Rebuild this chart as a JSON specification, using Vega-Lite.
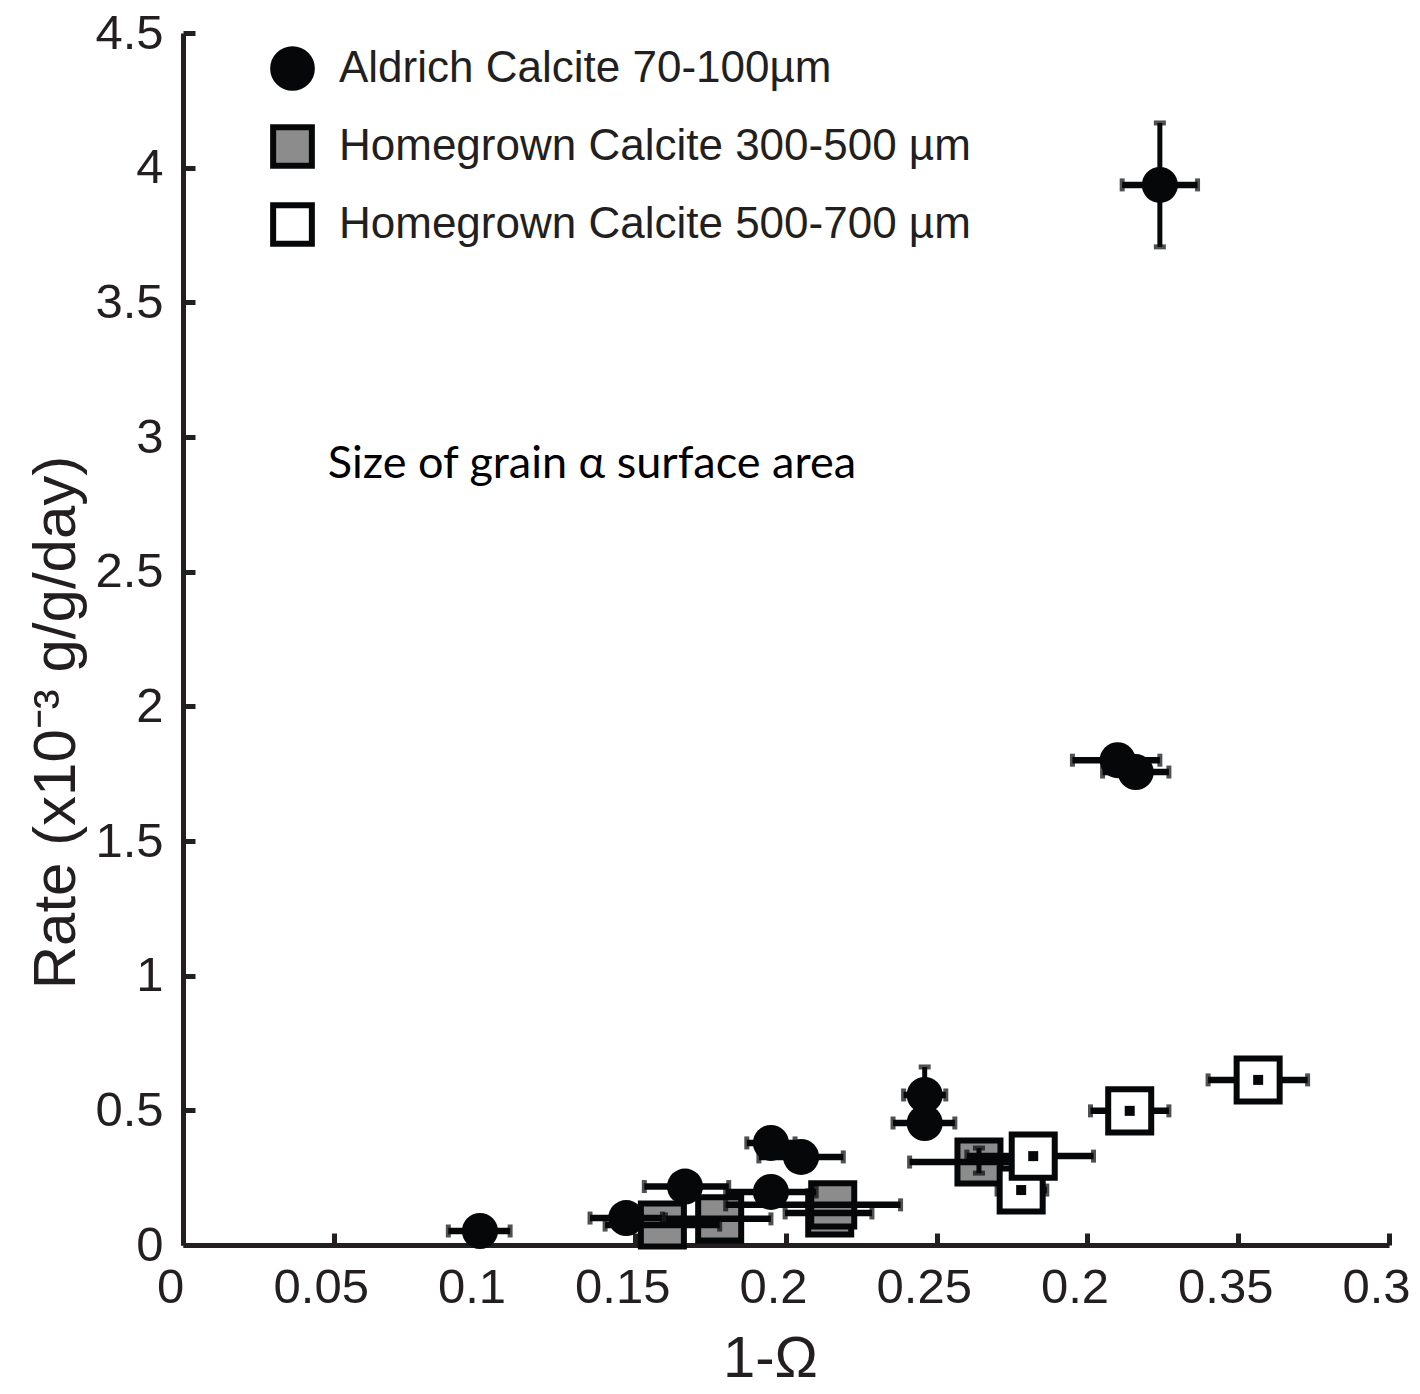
{
  "$schema": "https://vega.github.io/schema/vega-lite/v6.json",
  "autosize": {"type": "none"},
  "width": 1206,
  "height": 1212,
  "padding": {"left": 183, "top": 33, "right": 31, "bottom": 149},
  "background": "white",
  "config": {
    "view": {"stroke": null},
    "axis": {
      "domainColor": "#231f20", "domainWidth": 5, "tickColor": "#231f20", "tickWidth": 5,
      "labelFont": "Liberation Sans", "labelFontSize": 49, "labelColor": "#231f20",
      "titleFont": "Liberation Sans", "titleFontWeight": "normal", "titleColor": "#231f20",
      "grid": false
    },
    "legend": {
      "labelFont": "Liberation Sans", "labelFontSize": 44, "labelColor": "#231f20", "labelLimit": 0,
      "symbolSize": 1500, "symbolStrokeWidth": 6, "symbolStrokeColor": "#050708",
      "rowPadding": 15, "labelOffset": 24, "padding": 0
    }
  },
  "datasets": {
    "pts": [
      {"series": "Aldrich Calcite 70-100µm", "x": 0.0985, "y": 0.052, "xlo": 0.088, "xhi": 0.1085},
      {"series": "Aldrich Calcite 70-100µm", "x": 0.147, "y": 0.100, "xlo": 0.135, "xhi": 0.159},
      {"series": "Aldrich Calcite 70-100µm", "x": 0.1665, "y": 0.217, "xlo": 0.153, "xhi": 0.181},
      {"series": "Aldrich Calcite 70-100µm", "x": 0.195, "y": 0.379, "xlo": 0.187, "xhi": 0.203},
      {"series": "Aldrich Calcite 70-100µm", "x": 0.205, "y": 0.327, "xlo": 0.191, "xhi": 0.219},
      {"series": "Aldrich Calcite 70-100µm", "x": 0.195, "y": 0.197, "xlo": 0.180, "xhi": 0.210},
      {"series": "Aldrich Calcite 70-100µm", "x": 0.246, "y": 0.557, "xlo": 0.239, "xhi": 0.253},
      {"series": "Aldrich Calcite 70-100µm", "x": 0.246, "y": 0.453, "xlo": 0.2355, "xhi": 0.256},
      {"series": "Aldrich Calcite 70-100µm", "x": 0.310, "y": 1.800, "xlo": 0.295, "xhi": 0.324},
      {"series": "Aldrich Calcite 70-100µm", "x": 0.316, "y": 1.756, "xlo": 0.305, "xhi": 0.327},
      {"series": "Aldrich Calcite 70-100µm", "x": 0.324, "y": 3.936, "xlo": 0.3115, "xhi": 0.3365},
      {"series": "Homegrown Calcite 300-500 µm", "x": 0.159, "y": 0.074, "xlo": 0.140, "xhi": 0.178},
      {"series": "Homegrown Calcite 300-500 µm", "x": 0.178, "y": 0.097, "xlo": 0.160, "xhi": 0.195},
      {"series": "Homegrown Calcite 300-500 µm", "x": 0.2145, "y": 0.119, "xlo": 0.1997, "xhi": 0.2285},
      {"series": "Homegrown Calcite 300-500 µm", "x": 0.2155, "y": 0.149, "xlo": 0.180, "xhi": 0.238},
      {"series": "Homegrown Calcite 300-500 µm", "x": 0.264, "y": 0.308, "xlo": 0.241, "xhi": 0.284},
      {"series": "Homegrown Calcite 500-700 µm", "x": 0.278, "y": 0.204, "xlo": 0.270, "xhi": 0.2865},
      {"series": "Homegrown Calcite 500-700 µm", "x": 0.282, "y": 0.330, "xlo": 0.260, "xhi": 0.302},
      {"series": "Homegrown Calcite 500-700 µm", "x": 0.314, "y": 0.498, "xlo": 0.301, "xhi": 0.327},
      {"series": "Homegrown Calcite 500-700 µm", "x": 0.3566, "y": 0.613, "xlo": 0.340, "xhi": 0.373}
    ],
    "yerr": [
      {"x": 0.324, "ylo": 3.706, "yhi": 4.166},
      {"x": 0.246, "ylo": 0.47, "yhi": 0.661},
      {"x": 0.264, "ylo": 0.267, "yhi": 0.36}
    ],
    "note": [
      {"x": 0.048, "y": 2.9, "text": "Size of grain α surface area"}
    ]
  },
  "layer": [
    {
      "data": {"name": "pts"},
      "transform": [{"filter": "datum.series === 'Homegrown Calcite 300-500 µm'"}],
      "mark": {"type": "point", "filled": true, "strokeWidth": 6, "opacity": 1, "size": 1850},
      "encoding": {
        "x": {"field": "x", "type": "quantitative", "title": "1-Ω", "scale": {"domain": [0, 0.4], "nice": false, "zero": true},
          "axis": {"title": "1-Ω", "titleFontSize": 58, "titleX": 587, "values": [0, 0.05, 0.1, 0.15, 0.2, 0.25, 0.3, 0.35, 0.4],
            "labelExpr": "['0','0.05','0.1','0.15','0.2','0.25','0.2','0.35','0.3'][round(datum.value*20)]",
            "tickSize": -12, "labelPadding": 30, "labelOffset": -13, "titlePadding": 18, "labelFlush": false}},
        "y": {"field": "y", "type": "quantitative", "title": "Rate (x10⁻³ g/g/day)", "scale": {"domain": [0, 4.5], "nice": false},
          "axis": {"title": "Rate (x10⁻³ g/g/day)", "titleFontSize": 60, "titleY": 689, "values": [0, 0.5, 1, 1.5, 2, 2.5, 3, 3.5, 4, 4.5], "format": "~g",
            "tickSize": -12, "labelPadding": 32, "titlePadding": 7, "labelFlush": false}},
        "fill": {"field": "series", "type": "nominal", "title": null,
          "scale": {"domain": ["Aldrich Calcite 70-100µm", "Homegrown Calcite 300-500 µm", "Homegrown Calcite 500-700 µm"], "range": ["#050708", "#8c8c8c", "#ffffff"]},
          "legend": {"orient": "none", "legendX": 87, "legendY": 13, "symbolStrokeWidth": 6, "symbolStrokeColor": "#050708"}},
        "shape": {"field": "series", "type": "nominal", "title": null,
          "scale": {"domain": ["Aldrich Calcite 70-100µm", "Homegrown Calcite 300-500 µm", "Homegrown Calcite 500-700 µm"], "range": ["circle", "square", "square"]},
          "legend": {"orient": "none", "legendX": 87, "legendY": 13, "symbolStrokeWidth": 6, "symbolStrokeColor": "#050708"}},
        "stroke": {"field": "series", "type": "nominal", "title": null,
          "scale": {"domain": ["Aldrich Calcite 70-100µm", "Homegrown Calcite 300-500 µm", "Homegrown Calcite 500-700 µm"], "range": ["#050708", "#050708", "#050708"]},
          "legend": {"orient": "none", "legendX": 87, "legendY": 13, "symbolStrokeWidth": 6}}
      }
    },
    {
      "data": {"name": "pts"},
      "mark": {"type": "errorbar", "color": "#050708", "thickness": 5, "size": 13, "ticks": true, "rule": {"strokeWidth": 6.5}},
      "encoding": {
        "x": {"field": "xlo", "type": "quantitative", "title": "1-Ω"},
        "x2": {"field": "xhi"},
        "y": {"field": "y", "type": "quantitative", "title": "Rate (x10⁻³ g/g/day)"}
      }
    },
    {
      "data": {"name": "yerr"},
      "mark": {"type": "errorbar", "color": "#050708", "thickness": 5, "size": 12, "ticks": true, "rule": {"strokeWidth": 5}},
      "encoding": {
        "y": {"field": "ylo", "type": "quantitative", "title": "Rate (x10⁻³ g/g/day)"},
        "y2": {"field": "yhi"},
        "x": {"field": "x", "type": "quantitative", "title": "1-Ω"}
      }
    },
    {
      "data": {"name": "pts"},
      "transform": [{"filter": "datum.series === 'Aldrich Calcite 70-100µm'"}],
      "mark": {"type": "point", "filled": true, "opacity": 1, "size": 1300, "strokeWidth": 0},
      "encoding": {
        "x": {"field": "x", "type": "quantitative", "title": "1-Ω"},
        "y": {"field": "y", "type": "quantitative", "title": "Rate (x10⁻³ g/g/day)"},
        "fill": {"field": "series", "type": "nominal", "title": null},
        "shape": {"field": "series", "type": "nominal", "title": null},
        "stroke": {"field": "series", "type": "nominal", "title": null}
      }
    },
    {
      "data": {"name": "pts"},
      "transform": [{"filter": "datum.series === 'Homegrown Calcite 500-700 µm'"}],
      "mark": {"type": "point", "filled": true, "strokeWidth": 6, "opacity": 1, "size": 1850},
      "encoding": {
        "x": {"field": "x", "type": "quantitative", "title": "1-Ω"},
        "y": {"field": "y", "type": "quantitative", "title": "Rate (x10⁻³ g/g/day)"},
        "fill": {"field": "series", "type": "nominal", "title": null},
        "shape": {"field": "series", "type": "nominal", "title": null},
        "stroke": {"field": "series", "type": "nominal", "title": null}
      }
    },
    {
      "data": {"name": "pts"},
      "transform": [{"filter": "datum.series === 'Homegrown Calcite 500-700 µm'"}],
      "mark": {"type": "square", "color": "#050708", "opacity": 1, "size": 100},
      "encoding": {
        "x": {"field": "x", "type": "quantitative", "title": "1-Ω"},
        "y": {"field": "y", "type": "quantitative", "title": "Rate (x10⁻³ g/g/day)"}
      }
    },
    {
      "data": {"name": "note"},
      "mark": {"type": "text", "align": "left", "baseline": "middle", "font": "Lato", "fontSize": 45, "color": "#000000"},
      "encoding": {
        "x": {"field": "x", "type": "quantitative", "title": "1-Ω"},
        "y": {"field": "y", "type": "quantitative", "title": "Rate (x10⁻³ g/g/day)"},
        "text": {"field": "text"}
      }
    }
  ]
}
